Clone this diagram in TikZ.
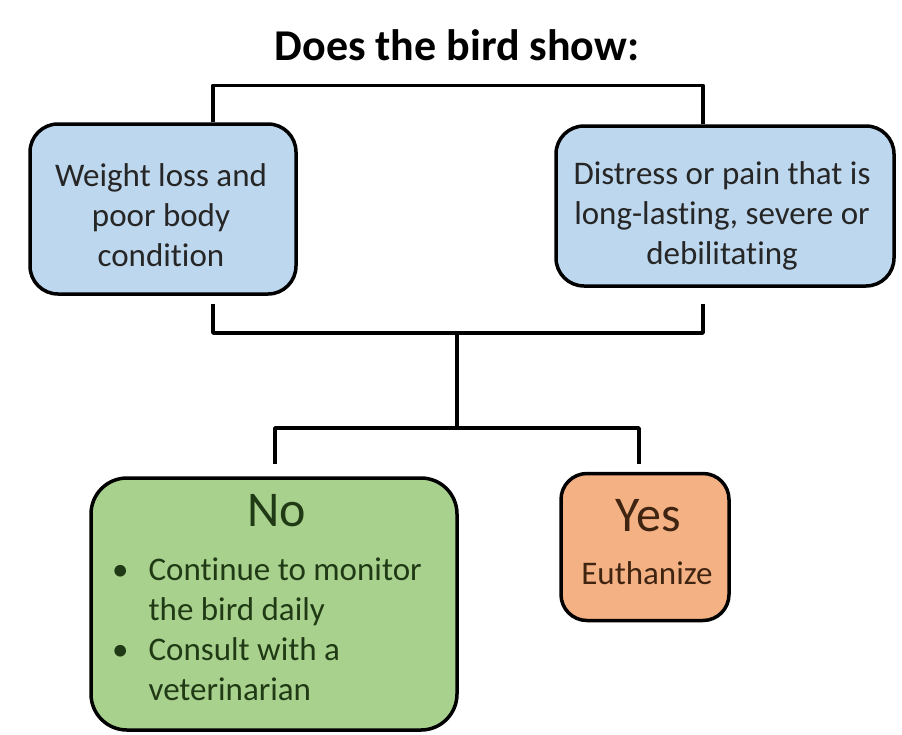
\documentclass[tikz,border=0pt]{standalone}
\usepackage{fontspec}
\setmainfont{Carlito}[Ligatures=NoCommon]
\usetikzlibrary{positioning}
\definecolor{boxblue}{HTML}{BDD7EE}
\definecolor{boxgreen}{HTML}{A9D18E}
\definecolor{boxorange}{HTML}{F4B183}
\definecolor{txtgreen}{HTML}{1F3A14}
\definecolor{txtbrown}{HTML}{3F2412}
\tikzset{
  qbox/.style={draw=black, line width=3.5pt, rounded corners=28pt, fill=boxblue},
  qtext/.style={align=center, text=black!85, font=\fontsize{33}{40}\selectfont},
  nobox/.style={draw=black, line width=3.5pt, rounded corners=36pt, fill=boxgreen},
  yesbox/.style={draw=black, line width=3.5pt, rounded corners=26pt, fill=boxorange},
  link/.style={line width=3.5pt, line join=round}
}
\begin{document}
\begin{tikzpicture}[x=1pt,y=-1pt]
	\useasboundingbox (0,0) rectangle (902,734);
	
	% title
	\node[font=\bfseries\fontsize{44}{50}\selectfont] (title) at (457,45) {Does the bird show:};
	
	% the two signs
	\node[qbox, minimum width=266pt, minimum height=170pt] (weight) at (163,209) {};
	\node[qbox, minimum width=338pt, minimum height=160pt] (distress) at (725,206) {};
	\node[qtext] (weighttext) at ([shift={(-2,6)}]weight) {Weight loss and\\poor body\\condition};
	\node[qtext] (distresstext) at ([shift={(-3,10)}]distress) {Distress or pain that is\\long-lasting, severe or\\debilitating};
	
	% the two answers
	\node[nobox, minimum width=366pt, minimum height=252pt] (no) at (274,604) {};
	\node[yesbox, minimum width=168pt, minimum height=147pt] (yes) at (645,547) {};
	\node[text=txtgreen, font=\fontsize{50}{56}\selectfont] (nolabel) at (277,511) {No};
	\node[anchor=north west, inner sep=0pt, text=txtgreen, font=\fontsize{33}{40}\selectfont] (noitems) at (112,552)
		{\begin{tabular}{@{}l@{\hspace{20pt}}l@{}}
			\textbullet & Continue to monitor\\
			 & the bird daily\\
			\textbullet & Consult with a\\
			 & veterinarian
		\end{tabular}};
	\node[text=txtbrown, font=\fontsize{50}{56}\selectfont] (yeslabel) at (648,516) {Yes};
	\node[text=txtbrown, font=\fontsize{33}{38}\selectfont] (yesitem) at (647,573) {Euthanize};
	
	% brackets
	\coordinate (join) at (457,333);
	\coordinate (split) at (457,428);
	\draw[link] ([shift={(50,0)}]weight.north) -- ++(0,-37) -| ([shift={(-22,0)}]distress.north);
	\draw[link] ([shift={(50,8)}]weight.south) |- (join) -| ([shift={(-22,16)}]distress.south);
	\draw[link] (join) -- (split);
	\draw[link] ([shift={(1,-12)}]no.north) |- (split) -| ([shift={(-6,-8)}]yes.north);
\end{tikzpicture}
\end{document}
